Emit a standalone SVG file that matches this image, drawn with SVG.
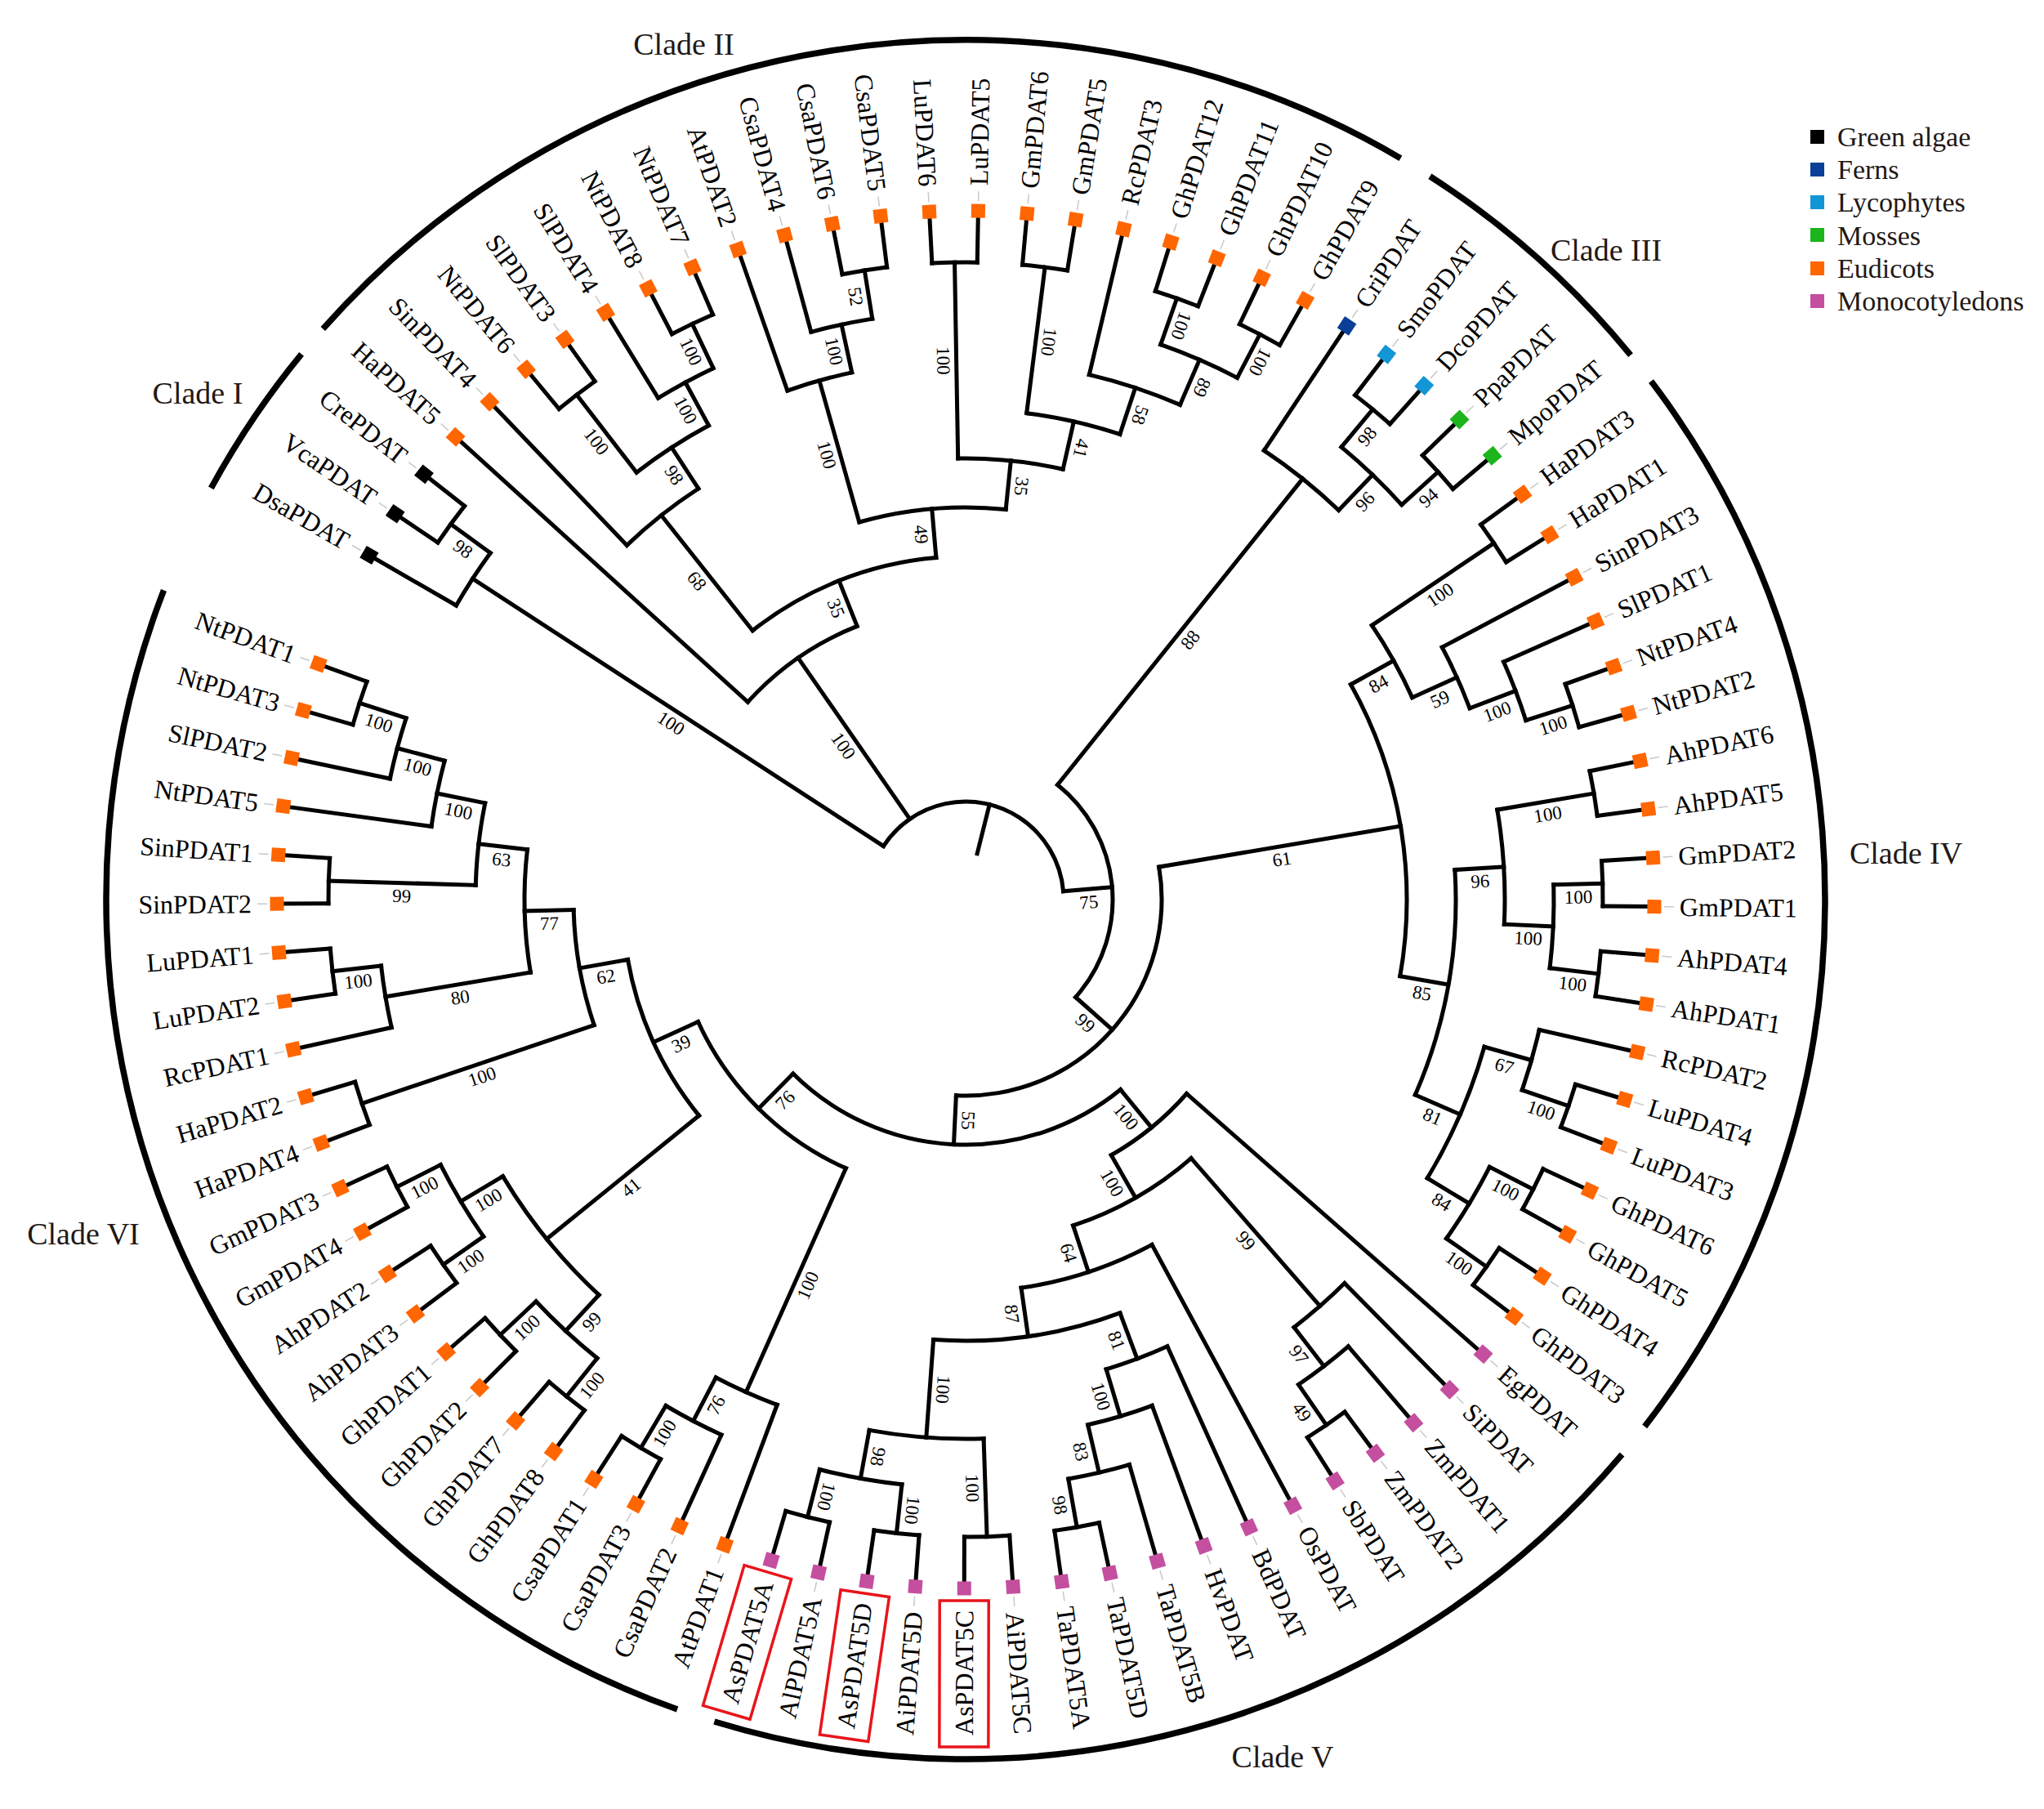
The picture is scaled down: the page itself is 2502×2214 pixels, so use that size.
<svg xmlns="http://www.w3.org/2000/svg" width="2502" height="2214" viewBox="0 0 2502 2214">
<style>
.br{fill:none;stroke:#000;stroke-width:5;stroke-linecap:square}
.clade{fill:none;stroke:#000;stroke-width:7.5}
.bs{font-family:"Liberation Serif","Times New Roman",serif;font-size:23px;text-anchor:middle;dominant-baseline:central;fill:#000}
.lf{font-family:"Liberation Serif","Times New Roman",serif;font-size:32px;dominant-baseline:central;fill:#000}
.l{text-anchor:end}
.dash{stroke:#c8c8c8;stroke-width:1.5}
.eu{fill:#FF6600}.mo{fill:#C44F9E}.ga{fill:#000}.fe{fill:#0A3F97}.ly{fill:#1296D5}.ms{fill:#1CB51C}
.box{fill:none;stroke:#E8151B;stroke-width:3.5}
.cl{font-family:"Liberation Serif","Times New Roman",serif;font-size:38px;fill:#231815;text-anchor:middle}
.lg{font-family:"Liberation Serif","Times New Roman",serif;font-size:34px;fill:#231815}
</style>
<rect width="2502" height="2214" fill="#fff"/>
<g transform="translate(1182,1101)">
<g id="clade-arcs" class="clade">
<circle r="1052" pathLength="360" stroke-dasharray="10.8 720" transform="rotate(208.6)"/>
<circle r="1052" pathLength="360" stroke-dasharray="78.8 720" transform="rotate(221.6)"/>
<circle r="1052" pathLength="360" stroke-dasharray="18 720" transform="rotate(302.7)"/>
<circle r="1052" pathLength="360" stroke-dasharray="74.9 720" transform="rotate(322.9)"/>
<circle r="1052" pathLength="360" stroke-dasharray="66.8 720" transform="rotate(40.2)"/>
<circle r="1052" pathLength="360" stroke-dasharray="91.5 720" transform="rotate(109.6)"/>
</g>
<g id="connectors" class="br">
<line x1="58" x2="120" transform="rotate(284.098)"/>
<circle r="120" pathLength="360" stroke-dasharray="142.089 720" transform="rotate(213.053)"/>
<line x1="120" x2="720" transform="rotate(213.053)"/>
<line x1="120" x2="360" transform="rotate(235.278)"/>
<line x1="120" x2="180" transform="rotate(355.142)"/>
<circle r="720" pathLength="360" stroke-dasharray="6.105 720" transform="rotate(210)"/>
<circle r="780" pathLength="360" stroke-dasharray="4.07 720" transform="rotate(214.07)"/>
<line x1="720" x2="843" transform="rotate(210)"/>
<line x1="720" x2="780" transform="rotate(216.105)"/>
<line x1="780" x2="843" transform="rotate(214.07)"/>
<line x1="780" x2="843" transform="rotate(218.14)"/>
<circle r="360" pathLength="360" stroke-dasharray="26.137 720" transform="rotate(222.209)"/>
<circle r="420" pathLength="360" stroke-dasharray="33.449 720" transform="rotate(231.621)"/>
<circle r="600" pathLength="360" stroke-dasharray="10.684 720" transform="rotate(226.279)"/>
<circle r="660" pathLength="360" stroke-dasharray="9.157 720" transform="rotate(232.384)"/>
<circle r="780" pathLength="360" stroke-dasharray="4.07 720" transform="rotate(230.349)"/>
<circle r="720" pathLength="360" stroke-dasharray="6.104 720" transform="rotate(238.489)"/>
<circle r="780" pathLength="360" stroke-dasharray="4.07 720" transform="rotate(242.558)"/>
<circle r="480" pathLength="360" stroke-dasharray="21.621 720" transform="rotate(254.259)"/>
<circle r="660" pathLength="360" stroke-dasharray="7.122 720" transform="rotate(250.698)"/>
<circle r="720" pathLength="360" stroke-dasharray="6.105 720" transform="rotate(254.768)"/>
<circle r="780" pathLength="360" stroke-dasharray="4.069 720" transform="rotate(258.838)"/>
<circle r="540" pathLength="360" stroke-dasharray="13.736 720" transform="rotate(269.012)"/>
<circle r="780" pathLength="360" stroke-dasharray="4.07 720" transform="rotate(266.977)"/>
<circle r="600" pathLength="360" stroke-dasharray="11.192 720" transform="rotate(277.152)"/>
<circle r="780" pathLength="360" stroke-dasharray="4.07 720" transform="rotate(275.117)"/>
<circle r="660" pathLength="360" stroke-dasharray="10.175 720" transform="rotate(283.256)"/>
<circle r="720" pathLength="360" stroke-dasharray="8.14 720" transform="rotate(289.361)"/>
<circle r="780" pathLength="360" stroke-dasharray="4.07 720" transform="rotate(287.326)"/>
<circle r="780" pathLength="360" stroke-dasharray="4.07 720" transform="rotate(295.466)"/>
<line x1="360" x2="843" transform="rotate(222.209)"/>
<line x1="360" x2="420" transform="rotate(248.346)"/>
<line x1="420" x2="600" transform="rotate(231.621)"/>
<line x1="420" x2="480" transform="rotate(265.07)"/>
<line x1="600" x2="843" transform="rotate(226.279)"/>
<line x1="600" x2="660" transform="rotate(236.963)"/>
<line x1="660" x2="780" transform="rotate(232.384)"/>
<line x1="660" x2="720" transform="rotate(241.541)"/>
<line x1="780" x2="843" transform="rotate(230.349)"/>
<line x1="780" x2="843" transform="rotate(234.419)"/>
<line x1="720" x2="843" transform="rotate(238.489)"/>
<line x1="720" x2="780" transform="rotate(244.593)"/>
<line x1="780" x2="843" transform="rotate(242.558)"/>
<line x1="780" x2="843" transform="rotate(246.628)"/>
<line x1="480" x2="660" transform="rotate(254.259)"/>
<line x1="480" x2="540" transform="rotate(275.88)"/>
<line x1="660" x2="843" transform="rotate(250.698)"/>
<line x1="660" x2="720" transform="rotate(257.82)"/>
<line x1="720" x2="843" transform="rotate(254.768)"/>
<line x1="720" x2="780" transform="rotate(260.873)"/>
<line x1="780" x2="843" transform="rotate(258.838)"/>
<line x1="780" x2="843" transform="rotate(262.907)"/>
<line x1="540" x2="780" transform="rotate(269.012)"/>
<line x1="780" x2="843" transform="rotate(266.977)"/>
<line x1="780" x2="843" transform="rotate(271.047)"/>
<line x1="540" x2="600" transform="rotate(282.748)"/>
<line x1="600" x2="780" transform="rotate(277.152)"/>
<line x1="780" x2="843" transform="rotate(275.117)"/>
<line x1="780" x2="843" transform="rotate(279.187)"/>
<line x1="600" x2="660" transform="rotate(288.344)"/>
<line x1="660" x2="843" transform="rotate(283.256)"/>
<line x1="660" x2="720" transform="rotate(293.431)"/>
<line x1="720" x2="780" transform="rotate(289.361)"/>
<line x1="720" x2="780" transform="rotate(297.501)"/>
<line x1="780" x2="843" transform="rotate(287.326)"/>
<line x1="780" x2="843" transform="rotate(291.396)"/>
<line x1="780" x2="843" transform="rotate(295.466)"/>
<line x1="780" x2="843" transform="rotate(299.536)"/>
<circle r="180" pathLength="360" stroke-dasharray="92.899 720" transform="rotate(308.693)"/>
<circle r="660" pathLength="360" stroke-dasharray="10.175 720" transform="rotate(303.605)"/>
<circle r="720" pathLength="360" stroke-dasharray="8.14 720" transform="rotate(309.71)"/>
<circle r="780" pathLength="360" stroke-dasharray="4.07 720" transform="rotate(307.675)"/>
<circle r="780" pathLength="360" stroke-dasharray="4.07 720" transform="rotate(315.815)"/>
<line x1="180" x2="660" transform="rotate(308.693)"/>
<line x1="660" x2="843" transform="rotate(303.605)"/>
<line x1="660" x2="720" transform="rotate(313.78)"/>
<line x1="720" x2="780" transform="rotate(309.71)"/>
<line x1="720" x2="780" transform="rotate(317.85)"/>
<line x1="780" x2="843" transform="rotate(307.675)"/>
<line x1="780" x2="843" transform="rotate(311.745)"/>
<line x1="780" x2="843" transform="rotate(315.815)"/>
<line x1="780" x2="843" transform="rotate(319.885)"/>
<line x1="180" x2="240" transform="rotate(41.592)"/>
<circle r="240" pathLength="360" stroke-dasharray="102.365 720" transform="rotate(350.409)"/>
<line x1="240" x2="540" transform="rotate(350.409)"/>
<line x1="240" x2="300" transform="rotate(92.774)"/>
<circle r="540" pathLength="360" stroke-dasharray="39.172 720" transform="rotate(330.823)"/>
<circle r="600" pathLength="360" stroke-dasharray="9.667 720" transform="rotate(325.989)"/>
<circle r="780" pathLength="360" stroke-dasharray="4.07 720" transform="rotate(323.954)"/>
<circle r="660" pathLength="360" stroke-dasharray="7.123 720" transform="rotate(332.094)"/>
<circle r="720" pathLength="360" stroke-dasharray="6.105 720" transform="rotate(336.164)"/>
<circle r="780" pathLength="360" stroke-dasharray="4.069 720" transform="rotate(340.234)"/>
<circle r="600" pathLength="360" stroke-dasharray="26.963 720" transform="rotate(356.513)"/>
<circle r="660" pathLength="360" stroke-dasharray="12.21 720" transform="rotate(350.408)"/>
<circle r="780" pathLength="360" stroke-dasharray="4.07 720" transform="rotate(348.373)"/>
<circle r="720" pathLength="360" stroke-dasharray="8.139 720" transform="rotate(358.548)"/>
<circle r="780" pathLength="360" stroke-dasharray="4.07 720" transform="rotate(356.513)"/>
<circle r="780" pathLength="360" stroke-dasharray="4.07 720" transform="rotate(4.652)"/>
<circle r="660" pathLength="360" stroke-dasharray="15.261 720" transform="rotate(15.845)"/>
<circle r="720" pathLength="360" stroke-dasharray="6.105 720" transform="rotate(12.792)"/>
<circle r="780" pathLength="360" stroke-dasharray="4.07 720" transform="rotate(16.862)"/>
<circle r="720" pathLength="360" stroke-dasharray="8.14 720" transform="rotate(27.036)"/>
<circle r="780" pathLength="360" stroke-dasharray="4.07 720" transform="rotate(25.001)"/>
<circle r="780" pathLength="360" stroke-dasharray="4.07 720" transform="rotate(33.141)"/>
<line x1="540" x2="600" transform="rotate(330.823)"/>
<line x1="540" x2="600" transform="rotate(9.995)"/>
<line x1="600" x2="780" transform="rotate(325.989)"/>
<line x1="780" x2="843" transform="rotate(323.954)"/>
<line x1="780" x2="843" transform="rotate(328.024)"/>
<line x1="600" x2="660" transform="rotate(335.656)"/>
<line x1="660" x2="843" transform="rotate(332.094)"/>
<line x1="660" x2="720" transform="rotate(339.217)"/>
<line x1="720" x2="843" transform="rotate(336.164)"/>
<line x1="720" x2="780" transform="rotate(342.269)"/>
<line x1="780" x2="843" transform="rotate(340.234)"/>
<line x1="780" x2="843" transform="rotate(344.303)"/>
<line x1="600" x2="660" transform="rotate(356.513)"/>
<line x1="660" x2="780" transform="rotate(350.408)"/>
<line x1="780" x2="843" transform="rotate(348.373)"/>
<line x1="780" x2="843" transform="rotate(352.443)"/>
<line x1="660" x2="720" transform="rotate(2.618)"/>
<line x1="720" x2="780" transform="rotate(358.548)"/>
<line x1="720" x2="780" transform="rotate(6.687)"/>
<line x1="780" x2="843" transform="rotate(356.513)"/>
<line x1="780" x2="843" transform="rotate(0.583)"/>
<line x1="780" x2="843" transform="rotate(4.652)"/>
<line x1="780" x2="843" transform="rotate(8.722)"/>
<line x1="600" x2="660" transform="rotate(23.476)"/>
<line x1="660" x2="720" transform="rotate(15.845)"/>
<line x1="720" x2="843" transform="rotate(12.792)"/>
<line x1="720" x2="780" transform="rotate(18.897)"/>
<line x1="780" x2="843" transform="rotate(16.862)"/>
<line x1="780" x2="843" transform="rotate(20.932)"/>
<line x1="660" x2="720" transform="rotate(31.106)"/>
<line x1="720" x2="780" transform="rotate(27.036)"/>
<line x1="720" x2="780" transform="rotate(35.176)"/>
<line x1="780" x2="843" transform="rotate(25.001)"/>
<line x1="780" x2="843" transform="rotate(29.071)"/>
<line x1="780" x2="843" transform="rotate(33.141)"/>
<line x1="780" x2="843" transform="rotate(37.211)"/>
<circle r="300" pathLength="360" stroke-dasharray="83.94 720" transform="rotate(50.804)"/>
<circle r="360" pathLength="360" stroke-dasharray="19.046 720" transform="rotate(41.281)"/>
<circle r="420" pathLength="360" stroke-dasharray="22.829 720" transform="rotate(48.912)"/>
<circle r="660" pathLength="360" stroke-dasharray="7.123 720" transform="rotate(45.35)"/>
<circle r="720" pathLength="360" stroke-dasharray="6.105 720" transform="rotate(49.42)"/>
<circle r="780" pathLength="360" stroke-dasharray="4.07 720" transform="rotate(53.49)"/>
<circle r="480" pathLength="360" stroke-dasharray="20.222 720" transform="rotate(61.63)"/>
<circle r="540" pathLength="360" stroke-dasharray="24.673 720" transform="rotate(69.515)"/>
<circle r="600" pathLength="360" stroke-dasharray="7.632 720" transform="rotate(65.699)"/>
<circle r="660" pathLength="360" stroke-dasharray="7.123 720" transform="rotate(69.769)"/>
<circle r="720" pathLength="360" stroke-dasharray="6.105 720" transform="rotate(73.839)"/>
<circle r="780" pathLength="360" stroke-dasharray="4.07 720" transform="rotate(77.909)"/>
<circle r="660" pathLength="360" stroke-dasharray="12.21 720" transform="rotate(88.083)"/>
<circle r="780" pathLength="360" stroke-dasharray="4.07 720" transform="rotate(86.048)"/>
<circle r="720" pathLength="360" stroke-dasharray="8.14 720" transform="rotate(96.223)"/>
<circle r="780" pathLength="360" stroke-dasharray="4.07 720" transform="rotate(94.188)"/>
<circle r="780" pathLength="360" stroke-dasharray="4.069 720" transform="rotate(102.328)"/>
<line x1="300" x2="360" transform="rotate(50.804)"/>
<line x1="360" x2="843" transform="rotate(41.281)"/>
<line x1="360" x2="420" transform="rotate(60.327)"/>
<line x1="420" x2="660" transform="rotate(48.912)"/>
<line x1="660" x2="843" transform="rotate(45.35)"/>
<line x1="660" x2="720" transform="rotate(52.473)"/>
<line x1="720" x2="843" transform="rotate(49.42)"/>
<line x1="720" x2="780" transform="rotate(55.525)"/>
<line x1="780" x2="843" transform="rotate(53.49)"/>
<line x1="780" x2="843" transform="rotate(57.56)"/>
<line x1="420" x2="480" transform="rotate(71.741)"/>
<line x1="480" x2="843" transform="rotate(61.63)"/>
<line x1="480" x2="540" transform="rotate(81.852)"/>
<line x1="540" x2="600" transform="rotate(69.515)"/>
<line x1="600" x2="843" transform="rotate(65.699)"/>
<line x1="600" x2="660" transform="rotate(73.331)"/>
<line x1="660" x2="843" transform="rotate(69.769)"/>
<line x1="660" x2="720" transform="rotate(76.892)"/>
<line x1="720" x2="843" transform="rotate(73.839)"/>
<line x1="720" x2="780" transform="rotate(79.944)"/>
<line x1="780" x2="843" transform="rotate(77.909)"/>
<line x1="780" x2="843" transform="rotate(81.979)"/>
<line x1="540" x2="660" transform="rotate(94.188)"/>
<line x1="660" x2="780" transform="rotate(88.083)"/>
<line x1="780" x2="843" transform="rotate(86.048)"/>
<line x1="780" x2="843" transform="rotate(90.118)"/>
<line x1="660" x2="720" transform="rotate(100.293)"/>
<line x1="720" x2="780" transform="rotate(96.223)"/>
<line x1="720" x2="780" transform="rotate(104.363)"/>
<line x1="780" x2="843" transform="rotate(94.188)"/>
<line x1="780" x2="843" transform="rotate(98.258)"/>
<line x1="780" x2="843" transform="rotate(102.328)"/>
<line x1="780" x2="843" transform="rotate(106.397)"/>
<circle r="360" pathLength="360" stroke-dasharray="41.429 720" transform="rotate(114.029)"/>
<circle r="660" pathLength="360" stroke-dasharray="7.123 720" transform="rotate(110.467)"/>
<circle r="720" pathLength="360" stroke-dasharray="6.105 720" transform="rotate(114.537)"/>
<circle r="780" pathLength="360" stroke-dasharray="4.07 720" transform="rotate(118.607)"/>
<circle r="420" pathLength="360" stroke-dasharray="28.934 720" transform="rotate(140.991)"/>
<circle r="660" pathLength="360" stroke-dasharray="16.28 720" transform="rotate(132.851)"/>
<circle r="720" pathLength="360" stroke-dasharray="8.14 720" transform="rotate(128.781)"/>
<circle r="780" pathLength="360" stroke-dasharray="4.07 720" transform="rotate(126.746)"/>
<circle r="780" pathLength="360" stroke-dasharray="4.07 720" transform="rotate(134.886)"/>
<circle r="720" pathLength="360" stroke-dasharray="8.139 720" transform="rotate(145.061)"/>
<circle r="780" pathLength="360" stroke-dasharray="4.069 720" transform="rotate(143.026)"/>
<circle r="780" pathLength="360" stroke-dasharray="4.07 720" transform="rotate(151.165)"/>
<circle r="480" pathLength="360" stroke-dasharray="17.17 720" transform="rotate(161.34)"/>
<circle r="780" pathLength="360" stroke-dasharray="4.07 720" transform="rotate(159.305)"/>
<circle r="540" pathLength="360" stroke-dasharray="16.025 720" transform="rotate(170.497)"/>
<circle r="720" pathLength="360" stroke-dasharray="6.105 720" transform="rotate(167.444)"/>
<circle r="780" pathLength="360" stroke-dasharray="4.07 720" transform="rotate(171.514)"/>
<circle r="600" pathLength="360" stroke-dasharray="9.666 720" transform="rotate(181.689)"/>
<circle r="780" pathLength="360" stroke-dasharray="4.07 720" transform="rotate(179.654)"/>
<circle r="660" pathLength="360" stroke-dasharray="7.123 720" transform="rotate(187.793)"/>
<circle r="720" pathLength="360" stroke-dasharray="6.105 720" transform="rotate(191.863)"/>
<circle r="780" pathLength="360" stroke-dasharray="4.07 720" transform="rotate(195.933)"/>
<line x1="300" x2="360" transform="rotate(134.744)"/>
<line x1="360" x2="660" transform="rotate(114.029)"/>
<line x1="660" x2="843" transform="rotate(110.467)"/>
<line x1="660" x2="720" transform="rotate(117.59)"/>
<line x1="720" x2="843" transform="rotate(114.537)"/>
<line x1="720" x2="780" transform="rotate(120.642)"/>
<line x1="780" x2="843" transform="rotate(118.607)"/>
<line x1="780" x2="843" transform="rotate(122.677)"/>
<line x1="360" x2="420" transform="rotate(155.458)"/>
<line x1="420" x2="660" transform="rotate(140.991)"/>
<line x1="660" x2="720" transform="rotate(132.851)"/>
<line x1="720" x2="780" transform="rotate(128.781)"/>
<line x1="720" x2="780" transform="rotate(136.921)"/>
<line x1="780" x2="843" transform="rotate(126.746)"/>
<line x1="780" x2="843" transform="rotate(130.816)"/>
<line x1="780" x2="843" transform="rotate(134.886)"/>
<line x1="780" x2="843" transform="rotate(138.956)"/>
<line x1="660" x2="720" transform="rotate(149.131)"/>
<line x1="720" x2="780" transform="rotate(145.061)"/>
<line x1="720" x2="780" transform="rotate(153.2)"/>
<line x1="780" x2="843" transform="rotate(143.026)"/>
<line x1="780" x2="843" transform="rotate(147.095)"/>
<line x1="780" x2="843" transform="rotate(151.165)"/>
<line x1="780" x2="843" transform="rotate(155.235)"/>
<line x1="420" x2="480" transform="rotate(169.925)"/>
<line x1="480" x2="780" transform="rotate(161.34)"/>
<line x1="780" x2="843" transform="rotate(159.305)"/>
<line x1="780" x2="843" transform="rotate(163.375)"/>
<line x1="480" x2="540" transform="rotate(178.51)"/>
<line x1="540" x2="720" transform="rotate(170.497)"/>
<line x1="720" x2="843" transform="rotate(167.444)"/>
<line x1="720" x2="780" transform="rotate(173.549)"/>
<line x1="780" x2="843" transform="rotate(171.514)"/>
<line x1="780" x2="843" transform="rotate(175.584)"/>
<line x1="540" x2="600" transform="rotate(186.522)"/>
<line x1="600" x2="780" transform="rotate(181.689)"/>
<line x1="780" x2="843" transform="rotate(179.654)"/>
<line x1="780" x2="843" transform="rotate(183.724)"/>
<line x1="600" x2="660" transform="rotate(191.355)"/>
<line x1="660" x2="843" transform="rotate(187.793)"/>
<line x1="660" x2="720" transform="rotate(194.916)"/>
<line x1="720" x2="843" transform="rotate(191.863)"/>
<line x1="720" x2="780" transform="rotate(197.968)"/>
<line x1="780" x2="843" transform="rotate(195.933)"/>
<line x1="780" x2="843" transform="rotate(200.003)"/>
</g>
<g id="bootstrap" class="bs">
<text transform="rotate(213.053) translate(420,-16) rotate(180)">100</text>
<text transform="rotate(216.105) translate(750,-16) rotate(180)">98</text>
<text transform="rotate(235.278) translate(240,-16) rotate(180)">100</text>
<text transform="rotate(248.346) translate(390,-16) rotate(180)">35</text>
<text transform="rotate(231.621) translate(510,-16) rotate(180)">68</text>
<text transform="rotate(236.963) translate(630,-16) rotate(180)">98</text>
<text transform="rotate(232.384) translate(720,-16) rotate(180)">100</text>
<text transform="rotate(241.541) translate(690,-16) rotate(180)">100</text>
<text transform="rotate(244.593) translate(750,-16) rotate(180)">100</text>
<text transform="rotate(265.07) translate(450,-16) rotate(180)">49</text>
<text transform="rotate(254.259) translate(570,-16) rotate(180)">100</text>
<text transform="rotate(257.82) translate(690,-16) rotate(180)">100</text>
<text transform="rotate(260.873) translate(750,-16) rotate(180)">52</text>
<text transform="rotate(275.88) translate(510,16) rotate(180)">35</text>
<text transform="rotate(269.012) translate(660,-16) rotate(180)">100</text>
<text transform="rotate(282.748) translate(570,16) rotate(180)">41</text>
<text transform="rotate(277.152) translate(690,16) rotate(180)">100</text>
<text transform="rotate(288.344) translate(630,16) rotate(180)">58</text>
<text transform="rotate(293.431) translate(690,16) rotate(180)">89</text>
<text transform="rotate(289.361) translate(750,16) rotate(180)">100</text>
<text transform="rotate(297.501) translate(750,16) rotate(180)">100</text>
<text transform="rotate(355.142) translate(150,16)">75</text>
<text transform="rotate(308.693) translate(420,16)">88</text>
<text transform="rotate(313.78) translate(690,16)">96</text>
<text transform="rotate(309.71) translate(750,16)">98</text>
<text transform="rotate(317.85) translate(750,16)">94</text>
<text transform="rotate(41.592) translate(210,16)">99</text>
<text transform="rotate(350.409) translate(390,16)">61</text>
<text transform="rotate(330.823) translate(570,16)">84</text>
<text transform="rotate(325.989) translate(690,16)">100</text>
<text transform="rotate(335.656) translate(630,16)">59</text>
<text transform="rotate(339.217) translate(690,16)">100</text>
<text transform="rotate(342.269) translate(750,16)">100</text>
<text transform="rotate(9.995) translate(570,16)">85</text>
<text transform="rotate(356.513) translate(630,16)">96</text>
<text transform="rotate(350.408) translate(720,16)">100</text>
<text transform="rotate(2.618) translate(690,16)">100</text>
<text transform="rotate(358.548) translate(750,16)">100</text>
<text transform="rotate(6.687) translate(750,16)">100</text>
<text transform="rotate(23.476) translate(630,16)">81</text>
<text transform="rotate(15.845) translate(690,16)">67</text>
<text transform="rotate(18.897) translate(750,16)">100</text>
<text transform="rotate(31.106) translate(690,16)">84</text>
<text transform="rotate(27.036) translate(750,16)">100</text>
<text transform="rotate(35.176) translate(750,16)">100</text>
<text transform="rotate(92.774) translate(270,-16)">55</text>
<text transform="rotate(50.804) translate(330,16)">100</text>
<text transform="rotate(60.327) translate(390,16)">100</text>
<text transform="rotate(48.912) translate(540,16)">99</text>
<text transform="rotate(52.473) translate(690,16)">97</text>
<text transform="rotate(55.525) translate(750,16)">49</text>
<text transform="rotate(71.741) translate(450,16)">64</text>
<text transform="rotate(81.852) translate(510,16)">87</text>
<text transform="rotate(69.515) translate(570,16)">81</text>
<text transform="rotate(73.331) translate(630,16)">100</text>
<text transform="rotate(76.892) translate(690,16)">83</text>
<text transform="rotate(79.944) translate(750,16)">98</text>
<text transform="rotate(94.188) translate(600,-16)">100</text>
<text transform="rotate(88.083) translate(720,16)">100</text>
<text transform="rotate(100.293) translate(690,-16)">98</text>
<text transform="rotate(96.223) translate(750,-16)">100</text>
<text transform="rotate(104.363) translate(750,-16)">100</text>
<text transform="rotate(134.744) translate(330,-16) rotate(180)">76</text>
<text transform="rotate(114.029) translate(510,-16) rotate(180)">100</text>
<text transform="rotate(117.59) translate(690,-16) rotate(180)">76</text>
<text transform="rotate(120.642) translate(750,-16) rotate(180)">100</text>
<text transform="rotate(155.458) translate(390,-16) rotate(180)">39</text>
<text transform="rotate(140.991) translate(540,-16) rotate(180)">41</text>
<text transform="rotate(132.851) translate(690,-16) rotate(180)">99</text>
<text transform="rotate(128.781) translate(750,-16) rotate(180)">100</text>
<text transform="rotate(136.921) translate(750,-16) rotate(180)">100</text>
<text transform="rotate(149.131) translate(690,-16) rotate(180)">100</text>
<text transform="rotate(145.061) translate(750,-16) rotate(180)">100</text>
<text transform="rotate(153.2) translate(750,-16) rotate(180)">100</text>
<text transform="rotate(169.925) translate(450,-16) rotate(180)">62</text>
<text transform="rotate(161.34) translate(630,-16) rotate(180)">100</text>
<text transform="rotate(178.51) translate(510,-16) rotate(180)">77</text>
<text transform="rotate(170.497) translate(630,-16) rotate(180)">80</text>
<text transform="rotate(173.549) translate(750,-16) rotate(180)">100</text>
<text transform="rotate(186.522) translate(570,-16) rotate(180)">63</text>
<text transform="rotate(181.689) translate(690,-16) rotate(180)">99</text>
<text transform="rotate(191.355) translate(630,-16) rotate(180)">100</text>
<text transform="rotate(194.916) translate(690,-16) rotate(180)">100</text>
<text transform="rotate(197.968) translate(750,-16) rotate(180)">100</text>
</g>
<g id="leaves">
<g id="DsaPDAT" transform="rotate(210)"><line class="dash" x1="855" x2="867"/><rect class="ga" x="834.5" y="-8.5" width="17" height="17"/><text class="lf l" transform="translate(874,0) rotate(180)">DsaPDAT</text></g>
<g id="VcaPDAT" transform="rotate(214.07)"><line class="dash" x1="855" x2="867"/><rect class="ga" x="834.5" y="-8.5" width="17" height="17"/><text class="lf l" transform="translate(874,0) rotate(180)">VcaPDAT</text></g>
<g id="CrePDAT" transform="rotate(218.14)"><line class="dash" x1="855" x2="867"/><rect class="ga" x="834.5" y="-8.5" width="17" height="17"/><text class="lf l" transform="translate(874,0) rotate(180)">CrePDAT</text></g>
<g id="HaPDAT5" transform="rotate(222.209)"><line class="dash" x1="855" x2="867"/><rect class="eu" x="834.5" y="-8.5" width="17" height="17"/><text class="lf l" transform="translate(874,0) rotate(180)">HaPDAT5</text></g>
<g id="SinPDAT4" transform="rotate(226.279)"><line class="dash" x1="855" x2="867"/><rect class="eu" x="834.5" y="-8.5" width="17" height="17"/><text class="lf l" transform="translate(874,0) rotate(180)">SinPDAT4</text></g>
<g id="NtPDAT6" transform="rotate(230.349)"><line class="dash" x1="855" x2="867"/><rect class="eu" x="834.5" y="-8.5" width="17" height="17"/><text class="lf l" transform="translate(874,0) rotate(180)">NtPDAT6</text></g>
<g id="SlPDAT3" transform="rotate(234.419)"><line class="dash" x1="855" x2="867"/><rect class="eu" x="834.5" y="-8.5" width="17" height="17"/><text class="lf l" transform="translate(874,0) rotate(180)">SlPDAT3</text></g>
<g id="SlPDAT4" transform="rotate(238.489)"><line class="dash" x1="855" x2="867"/><rect class="eu" x="834.5" y="-8.5" width="17" height="17"/><text class="lf l" transform="translate(874,0) rotate(180)">SlPDAT4</text></g>
<g id="NtPDAT8" transform="rotate(242.558)"><line class="dash" x1="855" x2="867"/><rect class="eu" x="834.5" y="-8.5" width="17" height="17"/><text class="lf l" transform="translate(874,0) rotate(180)">NtPDAT8</text></g>
<g id="NtPDAT7" transform="rotate(246.628)"><line class="dash" x1="855" x2="867"/><rect class="eu" x="834.5" y="-8.5" width="17" height="17"/><text class="lf l" transform="translate(874,0) rotate(180)">NtPDAT7</text></g>
<g id="AtPDAT2" transform="rotate(250.698)"><line class="dash" x1="855" x2="867"/><rect class="eu" x="834.5" y="-8.5" width="17" height="17"/><text class="lf l" transform="translate(874,0) rotate(180)">AtPDAT2</text></g>
<g id="CsaPDAT4" transform="rotate(254.768)"><line class="dash" x1="855" x2="867"/><rect class="eu" x="834.5" y="-8.5" width="17" height="17"/><text class="lf l" transform="translate(874,0) rotate(180)">CsaPDAT4</text></g>
<g id="CsaPDAT6" transform="rotate(258.838)"><line class="dash" x1="855" x2="867"/><rect class="eu" x="834.5" y="-8.5" width="17" height="17"/><text class="lf l" transform="translate(874,0) rotate(180)">CsaPDAT6</text></g>
<g id="CsaPDAT5" transform="rotate(262.907)"><line class="dash" x1="855" x2="867"/><rect class="eu" x="834.5" y="-8.5" width="17" height="17"/><text class="lf l" transform="translate(874,0) rotate(180)">CsaPDAT5</text></g>
<g id="LuPDAT6" transform="rotate(266.977)"><line class="dash" x1="855" x2="867"/><rect class="eu" x="834.5" y="-8.5" width="17" height="17"/><text class="lf l" transform="translate(874,0) rotate(180)">LuPDAT6</text></g>
<g id="LuPDAT5" transform="rotate(271.047)"><line class="dash" x1="855" x2="867"/><rect class="eu" x="834.5" y="-8.5" width="17" height="17"/><text class="lf" x="874">LuPDAT5</text></g>
<g id="GmPDAT6" transform="rotate(275.117)"><line class="dash" x1="855" x2="867"/><rect class="eu" x="834.5" y="-8.5" width="17" height="17"/><text class="lf" x="874">GmPDAT6</text></g>
<g id="GmPDAT5" transform="rotate(279.187)"><line class="dash" x1="855" x2="867"/><rect class="eu" x="834.5" y="-8.5" width="17" height="17"/><text class="lf" x="874">GmPDAT5</text></g>
<g id="RcPDAT3" transform="rotate(283.256)"><line class="dash" x1="855" x2="867"/><rect class="eu" x="834.5" y="-8.5" width="17" height="17"/><text class="lf" x="874">RcPDAT3</text></g>
<g id="GhPDAT12" transform="rotate(287.326)"><line class="dash" x1="855" x2="867"/><rect class="eu" x="834.5" y="-8.5" width="17" height="17"/><text class="lf" x="874">GhPDAT12</text></g>
<g id="GhPDAT11" transform="rotate(291.396)"><line class="dash" x1="855" x2="867"/><rect class="eu" x="834.5" y="-8.5" width="17" height="17"/><text class="lf" x="874">GhPDAT11</text></g>
<g id="GhPDAT10" transform="rotate(295.466)"><line class="dash" x1="855" x2="867"/><rect class="eu" x="834.5" y="-8.5" width="17" height="17"/><text class="lf" x="874">GhPDAT10</text></g>
<g id="GhPDAT9" transform="rotate(299.536)"><line class="dash" x1="855" x2="867"/><rect class="eu" x="834.5" y="-8.5" width="17" height="17"/><text class="lf" x="874">GhPDAT9</text></g>
<g id="CriPDAT" transform="rotate(303.605)"><line class="dash" x1="855" x2="867"/><rect class="fe" x="834.5" y="-8.5" width="17" height="17"/><text class="lf" x="874">CriPDAT</text></g>
<g id="SmoPDAT" transform="rotate(307.675)"><line class="dash" x1="855" x2="867"/><rect class="ly" x="834.5" y="-8.5" width="17" height="17"/><text class="lf" x="874">SmoPDAT</text></g>
<g id="DcoPDAT" transform="rotate(311.745)"><line class="dash" x1="855" x2="867"/><rect class="ly" x="834.5" y="-8.5" width="17" height="17"/><text class="lf" x="874">DcoPDAT</text></g>
<g id="PpaPDAT" transform="rotate(315.815)"><line class="dash" x1="855" x2="867"/><rect class="ms" x="834.5" y="-8.5" width="17" height="17"/><text class="lf" x="874">PpaPDAT</text></g>
<g id="MpoPDAT" transform="rotate(319.885)"><line class="dash" x1="855" x2="867"/><rect class="ms" x="834.5" y="-8.5" width="17" height="17"/><text class="lf" x="874">MpoPDAT</text></g>
<g id="HaPDAT3" transform="rotate(323.954)"><line class="dash" x1="855" x2="867"/><rect class="eu" x="834.5" y="-8.5" width="17" height="17"/><text class="lf" x="874">HaPDAT3</text></g>
<g id="HaPDAT1" transform="rotate(328.024)"><line class="dash" x1="855" x2="867"/><rect class="eu" x="834.5" y="-8.5" width="17" height="17"/><text class="lf" x="874">HaPDAT1</text></g>
<g id="SinPDAT3" transform="rotate(332.094)"><line class="dash" x1="855" x2="867"/><rect class="eu" x="834.5" y="-8.5" width="17" height="17"/><text class="lf" x="874">SinPDAT3</text></g>
<g id="SlPDAT1" transform="rotate(336.164)"><line class="dash" x1="855" x2="867"/><rect class="eu" x="834.5" y="-8.5" width="17" height="17"/><text class="lf" x="874">SlPDAT1</text></g>
<g id="NtPDAT4" transform="rotate(340.234)"><line class="dash" x1="855" x2="867"/><rect class="eu" x="834.5" y="-8.5" width="17" height="17"/><text class="lf" x="874">NtPDAT4</text></g>
<g id="NtPDAT2" transform="rotate(344.303)"><line class="dash" x1="855" x2="867"/><rect class="eu" x="834.5" y="-8.5" width="17" height="17"/><text class="lf" x="874">NtPDAT2</text></g>
<g id="AhPDAT6" transform="rotate(348.373)"><line class="dash" x1="855" x2="867"/><rect class="eu" x="834.5" y="-8.5" width="17" height="17"/><text class="lf" x="874">AhPDAT6</text></g>
<g id="AhPDAT5" transform="rotate(352.443)"><line class="dash" x1="855" x2="867"/><rect class="eu" x="834.5" y="-8.5" width="17" height="17"/><text class="lf" x="874">AhPDAT5</text></g>
<g id="GmPDAT2" transform="rotate(356.513)"><line class="dash" x1="855" x2="867"/><rect class="eu" x="834.5" y="-8.5" width="17" height="17"/><text class="lf" x="874">GmPDAT2</text></g>
<g id="GmPDAT1" transform="rotate(0.583)"><line class="dash" x1="855" x2="867"/><rect class="eu" x="834.5" y="-8.5" width="17" height="17"/><text class="lf" x="874">GmPDAT1</text></g>
<g id="AhPDAT4" transform="rotate(4.652)"><line class="dash" x1="855" x2="867"/><rect class="eu" x="834.5" y="-8.5" width="17" height="17"/><text class="lf" x="874">AhPDAT4</text></g>
<g id="AhPDAT1" transform="rotate(8.722)"><line class="dash" x1="855" x2="867"/><rect class="eu" x="834.5" y="-8.5" width="17" height="17"/><text class="lf" x="874">AhPDAT1</text></g>
<g id="RcPDAT2" transform="rotate(12.792)"><line class="dash" x1="855" x2="867"/><rect class="eu" x="834.5" y="-8.5" width="17" height="17"/><text class="lf" x="874">RcPDAT2</text></g>
<g id="LuPDAT4" transform="rotate(16.862)"><line class="dash" x1="855" x2="867"/><rect class="eu" x="834.5" y="-8.5" width="17" height="17"/><text class="lf" x="874">LuPDAT4</text></g>
<g id="LuPDAT3" transform="rotate(20.932)"><line class="dash" x1="855" x2="867"/><rect class="eu" x="834.5" y="-8.5" width="17" height="17"/><text class="lf" x="874">LuPDAT3</text></g>
<g id="GhPDAT6" transform="rotate(25.001)"><line class="dash" x1="855" x2="867"/><rect class="eu" x="834.5" y="-8.5" width="17" height="17"/><text class="lf" x="874">GhPDAT6</text></g>
<g id="GhPDAT5" transform="rotate(29.071)"><line class="dash" x1="855" x2="867"/><rect class="eu" x="834.5" y="-8.5" width="17" height="17"/><text class="lf" x="874">GhPDAT5</text></g>
<g id="GhPDAT4" transform="rotate(33.141)"><line class="dash" x1="855" x2="867"/><rect class="eu" x="834.5" y="-8.5" width="17" height="17"/><text class="lf" x="874">GhPDAT4</text></g>
<g id="GhPDAT3" transform="rotate(37.211)"><line class="dash" x1="855" x2="867"/><rect class="eu" x="834.5" y="-8.5" width="17" height="17"/><text class="lf" x="874">GhPDAT3</text></g>
<g id="EgPDAT" transform="rotate(41.281)"><line class="dash" x1="855" x2="867"/><rect class="mo" x="834.5" y="-8.5" width="17" height="17"/><text class="lf" x="874">EgPDAT</text></g>
<g id="SiPDAT" transform="rotate(45.35)"><line class="dash" x1="855" x2="867"/><rect class="mo" x="834.5" y="-8.5" width="17" height="17"/><text class="lf" x="874">SiPDAT</text></g>
<g id="ZmPDAT1" transform="rotate(49.42)"><line class="dash" x1="855" x2="867"/><rect class="mo" x="834.5" y="-8.5" width="17" height="17"/><text class="lf" x="874">ZmPDAT1</text></g>
<g id="ZmPDAT2" transform="rotate(53.49)"><line class="dash" x1="855" x2="867"/><rect class="mo" x="834.5" y="-8.5" width="17" height="17"/><text class="lf" x="874">ZmPDAT2</text></g>
<g id="SbPDAT" transform="rotate(57.56)"><line class="dash" x1="855" x2="867"/><rect class="mo" x="834.5" y="-8.5" width="17" height="17"/><text class="lf" x="874">SbPDAT</text></g>
<g id="OsPDAT" transform="rotate(61.63)"><line class="dash" x1="855" x2="867"/><rect class="mo" x="834.5" y="-8.5" width="17" height="17"/><text class="lf" x="874">OsPDAT</text></g>
<g id="BdPDAT" transform="rotate(65.699)"><line class="dash" x1="855" x2="867"/><rect class="mo" x="834.5" y="-8.5" width="17" height="17"/><text class="lf" x="874">BdPDAT</text></g>
<g id="HvPDAT" transform="rotate(69.769)"><line class="dash" x1="855" x2="867"/><rect class="mo" x="834.5" y="-8.5" width="17" height="17"/><text class="lf" x="874">HvPDAT</text></g>
<g id="TaPDAT5B" transform="rotate(73.839)"><line class="dash" x1="855" x2="867"/><rect class="mo" x="834.5" y="-8.5" width="17" height="17"/><text class="lf" x="874">TaPDAT5B</text></g>
<g id="TaPDAT5D" transform="rotate(77.909)"><line class="dash" x1="855" x2="867"/><rect class="mo" x="834.5" y="-8.5" width="17" height="17"/><text class="lf" x="874">TaPDAT5D</text></g>
<g id="TaPDAT5A" transform="rotate(81.979)"><line class="dash" x1="855" x2="867"/><rect class="mo" x="834.5" y="-8.5" width="17" height="17"/><text class="lf" x="874">TaPDAT5A</text></g>
<g id="AiPDAT5C" transform="rotate(86.048)"><line class="dash" x1="855" x2="867"/><rect class="mo" x="834.5" y="-8.5" width="17" height="17"/><text class="lf" x="874">AiPDAT5C</text></g>
<g id="AsPDAT5C" transform="rotate(90.118)"><rect class="mo" x="834.5" y="-8.5" width="17" height="17"/><rect class="box" x="858" y="-30" width="179" height="60"/><text class="lf l" transform="translate(870,0) rotate(180)">AsPDAT5C</text></g>
<g id="AiPDAT5D" transform="rotate(94.188)"><line class="dash" x1="855" x2="867"/><rect class="mo" x="834.5" y="-8.5" width="17" height="17"/><text class="lf l" transform="translate(874,0) rotate(180)">AiPDAT5D</text></g>
<g id="AsPDAT5D" transform="rotate(98.258)"><rect class="mo" x="834.5" y="-8.5" width="17" height="17"/><rect class="box" x="858" y="-30" width="179" height="60"/><text class="lf l" transform="translate(870,0) rotate(180)">AsPDAT5D</text></g>
<g id="AlPDAT5A" transform="rotate(102.328)"><line class="dash" x1="855" x2="867"/><rect class="mo" x="834.5" y="-8.5" width="17" height="17"/><text class="lf l" transform="translate(874,0) rotate(180)">AlPDAT5A</text></g>
<g id="AsPDAT5A" transform="rotate(106.397)"><rect class="mo" x="834.5" y="-8.5" width="17" height="17"/><rect class="box" x="858" y="-30" width="179" height="60"/><text class="lf l" transform="translate(870,0) rotate(180)">AsPDAT5A</text></g>
<g id="AtPDAT1" transform="rotate(110.467)"><line class="dash" x1="855" x2="867"/><rect class="eu" x="834.5" y="-8.5" width="17" height="17"/><text class="lf l" transform="translate(874,0) rotate(180)">AtPDAT1</text></g>
<g id="CsaPDAT2" transform="rotate(114.537)"><line class="dash" x1="855" x2="867"/><rect class="eu" x="834.5" y="-8.5" width="17" height="17"/><text class="lf l" transform="translate(874,0) rotate(180)">CsaPDAT2</text></g>
<g id="CsaPDAT3" transform="rotate(118.607)"><line class="dash" x1="855" x2="867"/><rect class="eu" x="834.5" y="-8.5" width="17" height="17"/><text class="lf l" transform="translate(874,0) rotate(180)">CsaPDAT3</text></g>
<g id="CsaPDAT1" transform="rotate(122.677)"><line class="dash" x1="855" x2="867"/><rect class="eu" x="834.5" y="-8.5" width="17" height="17"/><text class="lf l" transform="translate(874,0) rotate(180)">CsaPDAT1</text></g>
<g id="GhPDAT8" transform="rotate(126.746)"><line class="dash" x1="855" x2="867"/><rect class="eu" x="834.5" y="-8.5" width="17" height="17"/><text class="lf l" transform="translate(874,0) rotate(180)">GhPDAT8</text></g>
<g id="GhPDAT7" transform="rotate(130.816)"><line class="dash" x1="855" x2="867"/><rect class="eu" x="834.5" y="-8.5" width="17" height="17"/><text class="lf l" transform="translate(874,0) rotate(180)">GhPDAT7</text></g>
<g id="GhPDAT2" transform="rotate(134.886)"><line class="dash" x1="855" x2="867"/><rect class="eu" x="834.5" y="-8.5" width="17" height="17"/><text class="lf l" transform="translate(874,0) rotate(180)">GhPDAT2</text></g>
<g id="GhPDAT1" transform="rotate(138.956)"><line class="dash" x1="855" x2="867"/><rect class="eu" x="834.5" y="-8.5" width="17" height="17"/><text class="lf l" transform="translate(874,0) rotate(180)">GhPDAT1</text></g>
<g id="AhPDAT3" transform="rotate(143.026)"><line class="dash" x1="855" x2="867"/><rect class="eu" x="834.5" y="-8.5" width="17" height="17"/><text class="lf l" transform="translate(874,0) rotate(180)">AhPDAT3</text></g>
<g id="AhPDAT2" transform="rotate(147.095)"><line class="dash" x1="855" x2="867"/><rect class="eu" x="834.5" y="-8.5" width="17" height="17"/><text class="lf l" transform="translate(874,0) rotate(180)">AhPDAT2</text></g>
<g id="GmPDAT4" transform="rotate(151.165)"><line class="dash" x1="855" x2="867"/><rect class="eu" x="834.5" y="-8.5" width="17" height="17"/><text class="lf l" transform="translate(874,0) rotate(180)">GmPDAT4</text></g>
<g id="GmPDAT3" transform="rotate(155.235)"><line class="dash" x1="855" x2="867"/><rect class="eu" x="834.5" y="-8.5" width="17" height="17"/><text class="lf l" transform="translate(874,0) rotate(180)">GmPDAT3</text></g>
<g id="HaPDAT4" transform="rotate(159.305)"><line class="dash" x1="855" x2="867"/><rect class="eu" x="834.5" y="-8.5" width="17" height="17"/><text class="lf l" transform="translate(874,0) rotate(180)">HaPDAT4</text></g>
<g id="HaPDAT2" transform="rotate(163.375)"><line class="dash" x1="855" x2="867"/><rect class="eu" x="834.5" y="-8.5" width="17" height="17"/><text class="lf l" transform="translate(874,0) rotate(180)">HaPDAT2</text></g>
<g id="RcPDAT1" transform="rotate(167.444)"><line class="dash" x1="855" x2="867"/><rect class="eu" x="834.5" y="-8.5" width="17" height="17"/><text class="lf l" transform="translate(874,0) rotate(180)">RcPDAT1</text></g>
<g id="LuPDAT2" transform="rotate(171.514)"><line class="dash" x1="855" x2="867"/><rect class="eu" x="834.5" y="-8.5" width="17" height="17"/><text class="lf l" transform="translate(874,0) rotate(180)">LuPDAT2</text></g>
<g id="LuPDAT1" transform="rotate(175.584)"><line class="dash" x1="855" x2="867"/><rect class="eu" x="834.5" y="-8.5" width="17" height="17"/><text class="lf l" transform="translate(874,0) rotate(180)">LuPDAT1</text></g>
<g id="SinPDAT2" transform="rotate(179.654)"><line class="dash" x1="855" x2="867"/><rect class="eu" x="834.5" y="-8.5" width="17" height="17"/><text class="lf l" transform="translate(874,0) rotate(180)">SinPDAT2</text></g>
<g id="SinPDAT1" transform="rotate(183.724)"><line class="dash" x1="855" x2="867"/><rect class="eu" x="834.5" y="-8.5" width="17" height="17"/><text class="lf l" transform="translate(874,0) rotate(180)">SinPDAT1</text></g>
<g id="NtPDAT5" transform="rotate(187.793)"><line class="dash" x1="855" x2="867"/><rect class="eu" x="834.5" y="-8.5" width="17" height="17"/><text class="lf l" transform="translate(874,0) rotate(180)">NtPDAT5</text></g>
<g id="SlPDAT2" transform="rotate(191.863)"><line class="dash" x1="855" x2="867"/><rect class="eu" x="834.5" y="-8.5" width="17" height="17"/><text class="lf l" transform="translate(874,0) rotate(180)">SlPDAT2</text></g>
<g id="NtPDAT3" transform="rotate(195.933)"><line class="dash" x1="855" x2="867"/><rect class="eu" x="834.5" y="-8.5" width="17" height="17"/><text class="lf l" transform="translate(874,0) rotate(180)">NtPDAT3</text></g>
<g id="NtPDAT1" transform="rotate(200.003)"><line class="dash" x1="855" x2="867"/><rect class="eu" x="834.5" y="-8.5" width="17" height="17"/><text class="lf l" transform="translate(874,0) rotate(180)">NtPDAT1</text></g>
</g>
</g>
<g id="clade-labels" class="cl">
<text x="242" y="494">Clade I</text>
<text x="837" y="67">Clade II</text>
<text x="1966" y="319">Clade III</text>
<text x="2333" y="1057">Clade IV</text>
<text x="1570" y="2163">Clade V</text>
<text x="102" y="1523">Clade VI</text>
</g>
<g id="legend">
<rect class="ga" x="2216" y="159" width="17" height="17"/><text class="lg" x="2249" y="179">Green algae</text>
<rect class="fe" x="2216" y="199" width="17" height="17"/><text class="lg" x="2249" y="219">Ferns</text>
<rect class="ly" x="2216" y="239" width="17" height="17"/><text class="lg" x="2249" y="259">Lycophytes</text>
<rect class="ms" x="2216" y="279" width="17" height="17"/><text class="lg" x="2249" y="300">Mosses</text>
<rect class="eu" x="2216" y="320" width="17" height="17"/><text class="lg" x="2249" y="340">Eudicots</text>
<rect class="mo" x="2216" y="360" width="17" height="17"/><text class="lg" x="2249" y="380">Monocotyledons</text>
</g>
</svg>
